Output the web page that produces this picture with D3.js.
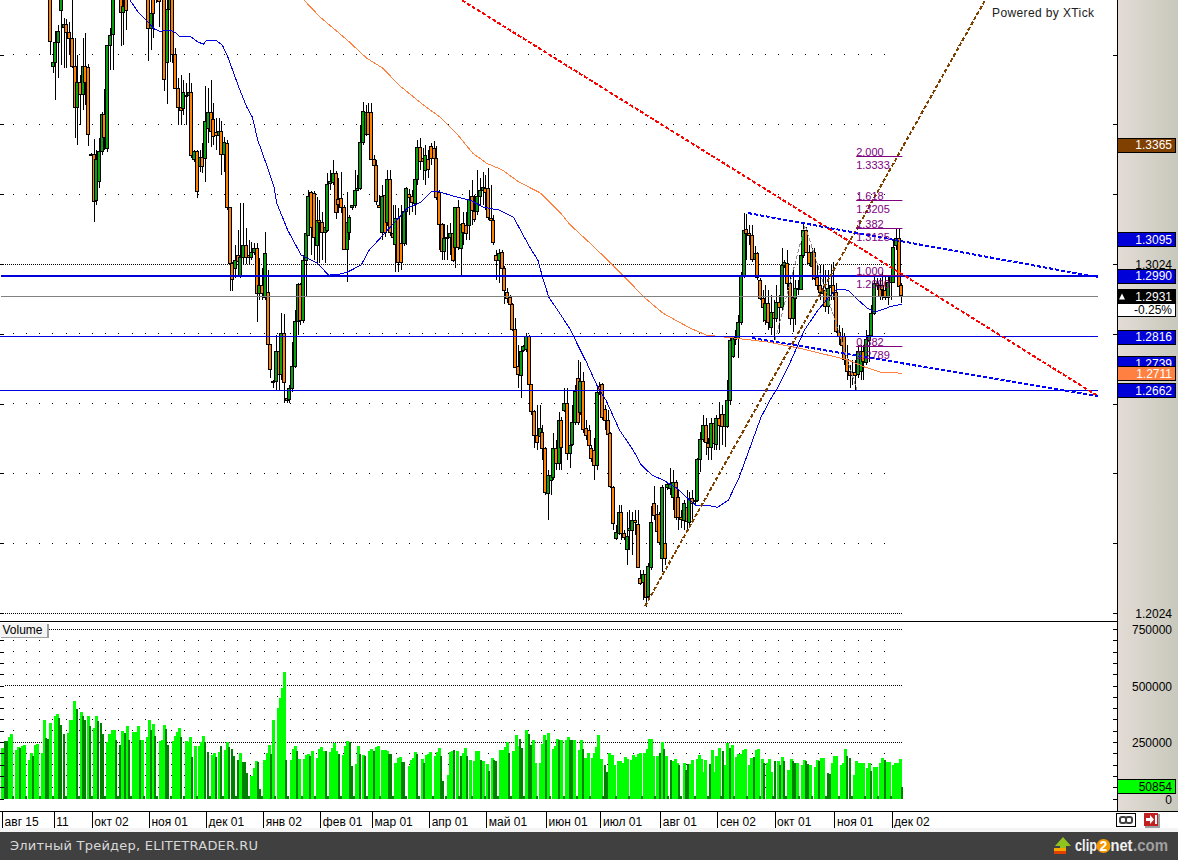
<!DOCTYPE html>
<html><head><meta charset="utf-8">
<script src="https://cdn.jsdelivr.net/npm/d3@7/dist/d3.min.js"></script>
<style>html,body{margin:0;padding:0;background:#fff;overflow:hidden}svg{display:block}text{font-family:"Liberation Sans",Arial,sans-serif}</style>
</head><body><svg id="c" width="1178" height="860"></svg>
<script>
// Daily candles in pips (price x 10000); bar numbers start at firstCandle, earlier bars are above the view.
const firstCandle = 18, lastBar = 331;
const opens = [13895,13588,13602,13660,13751,13703,13711,13688,13671,13591,
13473,13545,13511,13591,13588,13339,13339,13204,13259,13345,
13451,13356,13651,13683,13794,13837,13809,13746,13794,13823,
13832,13866,13837,13852,13837,13845,13809,13700,13803,13789,
13783,13794,13794,13602,13754,13794,13625,13528,13473,13468,
13508,13505,13514,13322,13345,13304,13330,13327,13413,13459,
13439,13402,13393,13405,13339,13370,13187,13026,13012,13047,
12992,13044,13078,13047,13044,13058,13069,12941,12963,12929,
12943,12794,12688,12688,12774,12708,12826,12640,12634,12666,
12731,12860,12966,12863,13035,13104,13230,13227,13078,13150,
13144,13115,13121,13253,13259,13284,13210,13213,13187,13067,
13115,13187,13193,13236,13241,13373,13396,13459,13459,13324,
13307,13193,13115,13221,13144,13267,13112,13081,13155,13084,
13081,13173,13224,13216,13198,13267,13359,13327,13293,13322,
13362,13356,13327,13230,13138,13061,13101,13098,13110,13072,
13187,13069,13141,13135,13135,13216,13175,13175,13218,13236,
13241,13239,13155,13150,13049,13035,13058,13012,12941,12929,
12909,12837,12729,12706,12777,12777,12817,12680,12602,12534,
12531,12542,12496,12368,12405,12413,12496,12453,12577,12605,
12625,12482,12508,12571,12697,12597,12686,12554,12548,12496,
12491,12448,12674,12680,12608,12577,12537,12385,12239,12253,
12313,12253,12204,12262,12262,12290,12279,12124,12110,12135,
12070,12156,12339,12305,12305,12181,12224,12382,12382,12356,
12399,12356,12299,12290,12325,12284,12353,12347,12347,12465,
12522,12562,12511,12499,12568,12505,12580,12594,12560,12560,
12634,12757,12806,12812,12857,12989,13124,13112,13107,13038,
13055,12978,12926,12863,12912,12843,12886,12869,12915,12900,
13021,13026,12969,12869,12926,12955,12952,13049,13121,13058,
13018,13058,12984,12961,12941,12949,12903,12955,12961,12941,
12829,12817,12817,12751,12717,12714,12714,12706,12714,12772,
12743,12806,12820,12883,12969,12961,12961,12949,12929,12972,
12972,13078,13098,12961];
const highs = [13909,13637,13691,13708,13803,13728,13726,13717,13809,13671,
13622,13565,13671,13685,13597,13342,13382,13350,13385,13459,
13525,13651,13700,13809,13866,13880,13823,13794,13809,13852,
13880,13890,13870,13875,13860,13865,13823,13780,13814,13803,
13803,13803,13809,13780,13809,13809,13642,13557,13565,13551,
13542,13571,13542,13350,13350,13350,13370,13534,13528,13551,
13485,13442,13442,13433,13387,13379,13187,13029,13078,13121,
13198,13198,13127,13092,13087,13084,13084,13041,13012,13115,
13006,12794,12691,12820,12826,12883,12880,12648,12677,12800,
12892,12969,12969,13049,13121,13236,13233,13233,13216,13207,
13173,13173,13284,13293,13322,13290,13270,13287,13193,13230,
13164,13193,13293,13279,13422,13488,13479,13485,13485,13336,
13322,13221,13250,13250,13293,13293,13193,13193,13184,13193,
13236,13244,13239,13236,13276,13379,13385,13356,13365,13350,
13370,13376,13362,13236,13141,13138,13135,13141,13158,13187,
13207,13138,13173,13173,13236,13264,13221,13293,13270,13287,
13279,13299,13250,13164,13064,13067,13064,13018,12955,12935,
12912,12869,12792,12783,12792,12826,12820,12680,12605,12620,
12620,12562,12499,12433,12433,12539,12519,12600,12585,12668,
12668,12562,12620,12677,12749,12743,12714,12577,12562,12505,
12525,12668,12686,12683,12620,12605,12542,12388,12276,12333,
12333,12262,12313,12319,12313,12319,12319,12147,12147,12135,
12167,12330,12388,12333,12313,12391,12385,12399,12439,12433,
12405,12376,12319,12347,12376,12370,12376,12362,12468,12542,
12591,12582,12525,12582,12582,12591,12628,12620,12628,12691,
12812,12812,12835,12878,13001,13170,13167,13135,13135,13075,
13058,12984,12949,12963,12949,12935,12920,12963,12935,13069,
13035,13064,12992,13006,12978,12978,13064,13138,13130,13078,
13069,13069,13021,13021,13021,13006,13006,13021,13029,12969,
12849,12840,12826,12792,12734,12749,12749,12792,12792,12792,
12835,12826,12906,12986,12984,12984,13001,12992,12992,13021,
13092,13127,13127,12969];
const lows = [13622,13571,13494,13557,13594,13585,13585,13622,13585,13385,
13365,13422,13465,13479,13362,13333,13144,13193,13241,13336,
13350,13345,13579,13579,13794,13803,13648,13651,13694,13794,
13810,13820,13815,13820,13815,13815,13605,13637,13671,13771,
13703,13774,13519,13482,13602,13600,13528,13422,13422,13451,
13422,13473,13327,13316,13213,13287,13284,13259,13370,13359,
13365,13350,13336,13279,13287,13178,12946,12946,12984,12992,
12984,13024,13024,13021,13035,13049,12857,12920,12920,12920,
12792,12697,12668,12663,12663,12691,12625,12625,12625,12657,
12726,12820,12849,12855,12929,13104,13049,13035,13024,13026,
13035,13026,13115,13236,13250,13153,13170,13170,13064,12972,
13092,13178,13184,13236,13236,13365,13390,13393,13322,13293,
13193,13184,13092,13101,13133,13104,13078,13001,13001,13006,
13075,13078,13164,13173,13164,13250,13293,13264,13250,13270,
13307,13322,13207,13064,13035,13035,13035,13049,13029,13012,
13064,12992,13078,13092,13092,13135,13144,13164,13193,13193,
13178,13150,13135,13078,12978,12969,13006,12909,12912,12903,
12832,12726,12668,12640,12772,12772,12677,12591,12496,12491,
12496,12462,12362,12290,12362,12405,12433,12433,12433,12600,
12462,12439,12502,12562,12562,12591,12539,12519,12468,12456,
12405,12433,12648,12577,12548,12505,12382,12262,12233,12247,
12233,12233,12161,12204,12190,12247,12153,12104,12061,12041,
12067,12147,12290,12233,12219,12141,12161,12376,12362,12319,
12290,12262,12267,12262,12262,12276,12290,12333,12342,12428,
12514,12476,12462,12462,12491,12491,12491,12505,12499,12554,
12620,12754,12792,12754,12849,12984,13035,13078,13029,13029,
12978,12920,12857,12849,12835,12820,12806,12857,12826,12892,
13012,12949,12849,12829,12849,12935,12949,13041,13055,13018,
12978,12978,12949,12920,12920,12886,12880,12920,12920,12826,
12792,12763,12734,12691,12668,12677,12663,12697,12691,12691,
12734,12743,12815,12878,12949,12920,12920,12920,12906,12920,
12969,13064,12955,12912];
const closes = [13663,13600,13660,13691,13789,13711,13688,13671,13591,13473,
13545,13511,13591,13545,13396,13339,13204,13322,13345,13451,
13385,13651,13680,13794,13837,13852,13746,13763,13751,13832,
13866,13837,13852,13837,13845,13830,13700,13743,13743,13783,
13777,13783,13554,13754,13794,13625,13528,13473,13465,13514,
13505,13514,13333,13345,13230,13330,13304,13433,13459,13405,
13390,13393,13405,13339,13373,13187,13026,12981,13035,13029,
13044,13078,13044,13041,13058,13069,12941,12963,12941,13055,
12794,12723,12686,12774,12708,12826,12686,12634,12666,12729,
12860,12966,12863,13035,13112,13216,13130,13101,13150,13144,
13115,13130,13253,13259,13284,13173,13196,13187,13067,13144,
13158,13193,13236,13241,13373,13462,13459,13396,13324,13307,
13204,13187,13218,13115,13267,13115,13101,13155,13029,13029,
13173,13239,13216,13198,13267,13359,13319,13319,13336,13293,
13327,13327,13216,13138,13061,13098,13101,13110,13032,13187,
13072,13138,13115,13112,13210,13175,13153,13218,13236,13244,
13230,13155,13150,13087,13035,13055,13012,12949,12923,12909,
12837,12729,12706,12774,12789,12815,12680,12602,12534,12514,
12554,12496,12370,12419,12419,12496,12453,12577,12499,12625,
12482,12505,12571,12660,12571,12686,12548,12534,12505,12468,
12448,12657,12663,12585,12577,12537,12385,12282,12256,12313,
12253,12242,12242,12267,12290,12284,12156,12110,12133,12070,
12156,12284,12305,12256,12224,12385,12181,12391,12393,12399,
12299,12299,12293,12339,12284,12353,12339,12347,12465,12522,
12562,12514,12499,12568,12511,12580,12560,12560,12594,12634,
12806,12812,12812,12857,12989,13121,13112,13107,13038,13055,
12986,12926,12900,12912,12857,12886,12869,12915,12900,13021,
13029,12969,12869,12929,12955,12952,13049,13121,13058,13026,
13058,12984,12961,12941,12949,12903,12955,12961,12941,12829,
12817,12792,12751,12717,12706,12706,12706,12772,12772,12743,
12809,12820,12883,12969,12963,12929,12949,12929,12972,12992,
13072,13098,12961,12931];

// Moving averages: bar number and value in pips.
const fastMaBars = [47,50,53,56,58,62,64,65,69,72,74,75,79,81,83,85,87,90,92,94,97,100,101,105,110,113,116,120,124,127,132,135,141,146,149,154,158,160,166,172,177,183,188,191,194,197,199,201,205,209,212,215,219,222,227,232,235,239,243,248,252,255,259,263,267,271,275,279,283,285,289,295,300,304,307,311,314,318,321,327,331];
const fastMaVals = [13780,13746,13723,13697,13691,13694,13685,13677,13677,13660,13654,13663,13663,13651,13617,13574,13531,13473,13445,13379,13313,13244,13198,13121,13049,13038,13026,12992,12995,13001,13021,13064,13115,13158,13184,13201,13233,13233,13218,13207,13187,13178,13158,13115,13072,13035,12978,12929,12883,12835,12786,12740,12671,12634,12548,12491,12448,12419,12405,12382,12353,12333,12333,12327,12347,12413,12499,12585,12643,12668,12729,12835,12892,12929,12952,12949,12926,12898,12886,12903,12909];
const slowMaBars = [111,117,127,134,140,146,155,161,167,173,178,184,190,198,205,209,215,220,230,236,243,253,259,269,282,293,302,311,317,323,331];
const slowMaVals = [13780,13731,13665,13614,13585,13536,13479,13445,13399,13342,13313,13293,13259,13227,13173,13135,13092,13055,12978,12929,12883,12840,12820,12812,12800,12783,12766,12749,12729,12714,12711];
const zigzagBars = [284.2,295.2,314.3];
const zigzagVals = [12806,13135,12663];

// Hand-drawn trend lines: [startBar, startPips, endBar, endPips]
const redTrend = [169,13780,403,12645];
const brownTrend = [236.4,12044,361.4,13780];
const upperBlueTrend = [274.2,13170,403,12986];
const lowerBlueTrend = [275.7,12812,403,12645];

const thickLevel = 1.2990, thinLevels = [1.2816,1.2662], lastPrice = 1.2931;
const fibRatios = ["2.000","1.618","1.382","1.000","0.382"];
const fibPrices = [1.3333,1.3205,1.3125,1.2990,1.2789];
const priceLabels = [1.3024,1.2024];
const priceGrid = [1.3624,1.3424,1.3224,1.2824,1.2624,1.2424,1.2224];
const priceTicks = [1.3624,1.3424,1.3224,1.3024,1.2824,1.2624,1.2424,1.2224,1.2024];
const tagValues = [1.3365,1.3095,1.2990,1.2816,1.2739,1.2711,1.2662];
const tagColors = ["#804000","#0000d8","#0000d8","#0000d8","#0000d8","#ff8040","#0000d8"];

const monthBars = [0,19,33,54,75,96,117,136,157,178,200,220,242,263,284,306,327];
const monthLabels = ["авг 15","11","окт 02","ноя 01","дек 01","янв 02","фев 01","мар 01","апр 01","май 01","июн 01","июл 01","авг 01","сен 02","окт 01","ноя 01","дек 02"];

// Volume in thousands, one line per week (five sessions and a small weekend print).
const volumeK = [222,256,256,271,284,9, 214,228,225,231,237,9, 170,201,189,238,241,9, 201,348,268,263,335,9,
363,375,357,327,286,9, 290,348,348,433,397,9, 382,363,348,363,323,9, 314,363,345,333,286,9,
248,286,304,304,259,9, 237,299,290,320,259,9, 293,293,320,259,259,9, 271,348,304,330,278,9,
256,259,326,308,237,9, 256,278,296,312,271,9, 254,248,271,182,231,9, 231,248,277,248,207,9,
192,201,182,204,231,9, 214,248,226,219,189,9, 170,201,162,162,112,9, 100,134,165,162,40,9,
170,201,237,196,348,9, 400,446,491,561,170,9, 170,219,231,208,174,9, 174,192,195,189,208,9,
179,219,226,210,208,9, 205,223,246,211,199,9, 192,231,254,248,143,9, 152,231,196,192,186,9,
208,219,208,229,232,9, 213,214,208,196,199,9, 156,179,185,162,162,9, 146,171,180,205,198,9,
176,158,193,196,204,9, 186,207,223,189,77,9, 104,207,211,214,211,9, 186,201,223,186,171,9,
168,211,211,171,168,9, 153,122,180,171,168,9, 216,216,226,250,201,9, 211,283,234,265,223,9,
301,284,238,257,159,9, 159,243,283,260,290,9, 219,234,265,260,257,9, 260,272,260,257,260,9,
213,260,219,179,201,9, 179,201,226,283,176,9, 149,119,201,193,149,9, 167,164,156,183,174,9,
171,193,182,198,201,9, 201,219,265,265,186,9, 186,201,251,220,186,9, 171,168,174,159,149,9,
156,124,152,152,171,9, 174,193,174,119,171,9, 153,216,119,186,223,9, 211,149,246,223,238,9,
183,198,198,213,220,9, 149,179,182,213,219,9, 176,156,159,174,119,9, 164,164,149,182,165,9,
126,174,165,159,159,9, 149,170,164,152,149,9, 140,170,167,179,179,9, 112,107,156,189,189,9,
147,156,219,187,179,9, 103,165,159,159,159,9, 134,159,122,140,140,9, 159,179,170,162,162,9,
147,156,159,174,50.854];
const volumeDown = [0,1,1,0,0,1, 0,0,1,0,0,1, 0,0,1,0,0,1, 0,0,1,1,0,1,
0,0,1,1,1,1, 0,0,0,0,1,1, 0,1,1,0,1,1, 0,0,1,1,1,1,
0,0,0,0,1,1, 1,0,1,0,1,1, 0,0,0,1,0,1, 0,0,1,0,1,1,
0,0,0,1,1,1, 0,0,0,0,1,1, 0,0,0,1,0,1, 0,0,0,1,1,1,
0,0,1,0,1,1, 0,0,1,1,1,1, 1,0,1,1,1,1, 0,0,0,1,1,1,
0,0,0,1,0,1, 0,0,0,0,1,1, 0,0,0,1,0,1, 0,0,0,1,0,1,
0,0,0,0,1,1, 0,0,0,0,1,1, 0,0,0,1,1,1, 0,0,1,0,1,1,
0,0,1,0,0,1, 0,0,0,1,1,1, 0,0,0,1,1,1, 0,0,0,0,1,1,
0,1,0,0,0,1, 0,0,0,1,1,1, 0,0,0,1,0,1, 1,0,0,1,0,1,
0,0,0,1,0,1, 0,1,0,1,1,1, 0,0,0,0,1,1, 0,0,0,1,1,1,
0,1,1,0,0,1, 0,0,0,1,0,1, 0,0,0,1,0,1, 0,0,1,1,0,1,
0,0,1,0,0,1, 0,0,0,0,0,1, 1,1,0,0,0,1, 0,0,0,0,0,1,
0,0,0,0,0,1, 0,0,0,0,0,1, 0,1,0,1,0,1, 1,0,0,0,1,1,
0,1,1,0,0,1, 0,0,0,0,0,1, 1,0,0,0,0,1, 1,0,0,1,0,1,
0,0,0,0,0,1, 0,0,1,0,0,1, 0,1,0,0,0,1, 1,0,1,0,1,1,
0,0,1,1,0,1, 0,0,1,1,0,1, 0,0,1,0,0,1, 1,1,0,0,0,1,
0,0,0,1,1,1, 0,0,0,0,0,1, 0,0,1,0,0,1, 0,0,1,0,0,1,
0,0,0,0,1];
const volumeLabels = [750000,500000,250000,0];
const volumeMinor = d3.range(0,750001,50000);
const lastVolume = 50854;

const svg = d3.select("#c");
const x = d3.scaleLinear().domain([0,lastBar]).range([2.1,902.4]);
const y = d3.scaleLinear().domain([1.2024,1.3024]).range([613,264]);
const xv = d3.scaleLinear().domain([0,volumeK.length-1]).range([2.4,902]);
const yv = d3.scaleLinear().domain([0,750000]).range([798.5,629]);
const py = p => y(p/10000);
const snap = v => Math.floor(v)+0.5;

// right panel gradient
const defs = svg.append("defs");
const g1 = defs.append("linearGradient").attr("id","pan");
g1.append("stop").attr("offset",0).attr("stop-color","#e3dcd6");
g1.append("stop").attr("offset",1).attr("stop-color","#c8c8bc");
svg.append("rect").attr("x",1117).attr("y",0).attr("width",61).attr("height",811).attr("fill","url(#pan)");

// grid
const sparse = (s,v) => s.append("line").attr("x1",12.7).attr("x2",891).attr("y1",snap(v)).attr("y2",snap(v))
  .attr("stroke","#000").attr("stroke-dasharray","1,12.2").attr("shape-rendering","crispEdges");
const dense = (s,v) => s.append("line").attr("x1",5).attr("x2",902).attr("y1",snap(v)).attr("y2",snap(v))
  .attr("stroke","#000").attr("stroke-dasharray","1,1").attr("shape-rendering","crispEdges");
const grid = svg.append("g");
priceGrid.forEach(p=>sparse(grid,y(p)));
priceLabels.forEach(p=>dense(grid,y(p)));
volumeMinor.filter(v=>v>0&&v%250000!==0).forEach(v=>sparse(grid,yv(v)));
volumeLabels.filter(v=>v>0).forEach(v=>dense(grid,yv(v)));

// volume bars
svg.append("g").selectAll("rect").data(volumeK).join("rect")
  .attr("x",(d,i)=>Math.round(xv(i))-1)
  .attr("width",(d,i)=>volumeDown[i]?2:3)
  .attr("y",d=>Math.round(yv(d*1000)))
  .attr("height",d=>799-Math.round(yv(d*1000)))
  .attr("fill",(d,i)=>volumeDown[i]?"#008000":"#00ff00")
  .attr("shape-rendering","crispEdges");

// candles
const candles = closes.map((c,k)=>({i:k+firstCandle,o:opens[k],h:highs[k],l:lows[k],c}));
const cg = svg.append("g").attr("shape-rendering","crispEdges");
cg.selectAll("line").data(candles).join("line")
  .attr("x1",d=>Math.round(x(d.i))-0.5).attr("x2",d=>Math.round(x(d.i))-0.5)
  .attr("y1",d=>py(d.h)).attr("y2",d=>py(d.l)).attr("stroke","#000");
cg.selectAll("rect").data(candles).join("rect")
  .attr("x",d=>Math.round(x(d.i))-2.5).attr("width",3)
  .attr("y",d=>snap(py(Math.max(d.o,d.c))))
  .attr("height",d=>Math.max(1,Math.round(Math.abs(py(d.o)-py(d.c)))))
  .attr("fill",d=>d.c>=d.o?"#08a010":"#ff8000").attr("stroke","#000");

// moving averages & zigzag
const line = d3.line().x(d=>x(d[0])).y(d=>py(d[1]));
const zip = (a,b)=>a.map((v,i)=>[v,b[i]]);
svg.append("path").attr("d",line(zip(zigzagBars,zigzagVals))).attr("fill","none").attr("stroke","#909090").attr("stroke-dasharray","4,2").attr("shape-rendering","crispEdges");
svg.append("path").attr("d",line(zip(slowMaBars,slowMaVals))).attr("fill","none").attr("stroke","#ff8040").attr("shape-rendering","crispEdges");
svg.append("path").attr("d",line(zip(fastMaBars,fastMaVals))).attr("fill","none").attr("stroke","#0000e0").attr("shape-rendering","crispEdges");

// levels
svg.append("line").attr("x1",1).attr("x2",1098).attr("y1",snap(y(lastPrice))).attr("y2",snap(y(lastPrice))).attr("stroke","#808080");
thinLevels.forEach(v=>svg.append("line").attr("x1",0).attr("x2",1098).attr("y1",snap(y(v))).attr("y2",snap(y(v))).attr("stroke","#0000e0"));
svg.append("line").attr("x1",1).attr("x2",1098).attr("y1",Math.round(y(thickLevel))).attr("y2",Math.round(y(thickLevel))).attr("stroke","#0000d8").attr("stroke-width",2);

// trend lines
[[redTrend,"#ff0000"],[brownTrend,"#804000"],[upperBlueTrend,"#0000ff"],[lowerBlueTrend,"#0000ff"]].forEach(([t,col])=>{
  svg.append("line").attr("x1",x(t[0])).attr("y1",py(t[1])).attr("x2",x(t[2])).attr("y2",py(t[3]))
   .attr("stroke",col).attr("stroke-width",2).attr("stroke-dasharray","4,2").attr("shape-rendering","crispEdges");
});

// fibonacci
const fibX1 = x(314), fibX2 = x(331);
fibPrices.forEach((p,i)=>{
  const yy = snap(y(p));
  svg.append("line").attr("x1",fibX1).attr("x2",fibX2).attr("y1",yy).attr("y2",yy).attr("stroke","#800080");
  svg.append("text").attr("x",fibX1).attr("y",yy-1).attr("font-size",11).attr("fill","#800080").text(fibRatios[i]);
  svg.append("text").attr("x",fibX1).attr("y",yy+12).attr("font-size",11).attr("fill","#800080").text(p.toFixed(4));
});

// frame lines
svg.append("line").attr("x1",0).attr("x2",1117).attr("y1",621.5).attr("y2",621.5).attr("stroke","#000");
svg.append("line").attr("x1",0).attr("x2",1178).attr("y1",811.5).attr("y2",811.5).attr("stroke","#000");
svg.append("line").attr("x1",1117.5).attr("x2",1117.5).attr("y1",0).attr("y2",811).attr("stroke","#000");

// side ticks by d3 axes
const cleanAxis = g => { g.select(".domain").remove(); g.attr("shape-rendering","crispEdges"); };
svg.append("g").attr("transform","translate(1117,0)").call(d3.axisLeft(y).tickValues(priceTicks).tickSize(4).tickFormat("")).call(cleanAxis);
svg.append("g").attr("transform","translate(0,0)").call(d3.axisRight(y).tickValues(priceTicks).tickSize(4).tickFormat("")).call(cleanAxis);
svg.append("g").attr("transform","translate(1117,0)").call(d3.axisLeft(yv).tickValues(volumeMinor).tickSize(4).tickFormat("")).call(cleanAxis);
svg.append("g").attr("transform","translate(0,0)").call(d3.axisRight(yv).tickValues(volumeMinor).tickSize(4).tickFormat("")).call(cleanAxis);

// axis labels
const rlabel = (yy,t,col,size)=>svg.append("text").attr("x",1172).attr("y",yy).attr("text-anchor","end").attr("font-size",size||12).attr("fill",col).text(t);
priceLabels.forEach(p=>rlabel(y(p)+4.5,p.toFixed(4),"#000"));
volumeLabels.forEach(v=>rlabel(yv(v)+5,String(v),"#000"));

// value tags
const tag = (yy,h,fill)=>svg.append("rect").attr("x",1117.5).attr("y",Math.round(yy)+0.5).attr("width",58).attr("height",h).attr("fill",fill).attr("stroke","#000").attr("shape-rendering","crispEdges");
tagValues.forEach((v,i)=>{
  tag(y(v)-7,14,tagColors[i]);
  rlabel(y(v)+4.5,v.toFixed(4),"#fff");
});
tag(y(lastPrice)-7,14,"#000");
rlabel(y(lastPrice)+4.5,lastPrice.toFixed(4),"#fff");
svg.append("path").attr("d",`M1118,${y(lastPrice)+3}l3,-6l3,6z`).attr("fill","#fff").attr("transform","translate(1,0)");
tag(y(lastPrice)+7,13,"#fff");
rlabel(y(lastPrice)+18,"-0.25%","#000");
tag(yv(lastVolume)-8,14,"#00ff00");
rlabel(yv(lastVolume)+3.5,String(lastVolume),"#000");

// volume button
svg.append("rect").attr("x",1).attr("y",624).attr("width",48).attr("height",14).attr("fill","#a0a0a0");
svg.append("rect").attr("x",0).attr("y",623).attr("width",47).attr("height",14).attr("fill","#f4f4f4");
svg.append("text").attr("x",2.5).attr("y",634).attr("font-size",12).attr("fill","#000").text("Volume");

svg.append("text").attr("x",992).attr("y",17).attr("font-size",12).attr("fill","#202020").attr("textLength",102).attr("lengthAdjust","spacing").text("Powered by XTick");

// month axis
const mapLabel = d3.scaleOrdinal().domain(monthBars).range(monthLabels);
const xa = svg.append("g").attr("transform","translate(0,811)")
  .call(d3.axisBottom(x).tickValues(monthBars).tickSize(17).tickFormat(d=>mapLabel(d)));
xa.select(".domain").remove();
xa.attr("shape-rendering","crispEdges");
xa.selectAll(".tick line").attr("stroke","#000");
xa.selectAll("text").attr("text-anchor","start").attr("x",2).attr("y",6).attr("dy","0.71em").attr("font-size",12).attr("fill","#000").style("font-family",'"Liberation Sans",Arial,sans-serif');

// footer
svg.append("rect").attr("x",0).attr("y",828).attr("width",1178).attr("height",4).attr("fill","#f4f4f4");
svg.append("rect").attr("x",0).attr("y",832).attr("width",1178).attr("height",28).attr("fill","#404040");
svg.append("text").attr("x",10).attr("y",850).attr("font-size",13).attr("fill","#d8d8d8").attr("textLength",248).attr("lengthAdjust","spacing").style("font-family",'"DejaVu Sans",sans-serif').text("Элитный Трейдер, ELITETRADER.RU");

// clip2net mark
const logo = svg.append("g");
logo.append("path").attr("d","M1063,837l8,9h-5v5h-6v-5h-5z").attr("fill","#8fc31f");
logo.append("rect").attr("x",1054).attr("y",848).attr("width",12).attr("height",3).attr("fill","#f6a800");
logo.append("rect").attr("x",1054).attr("y",851).attr("width",12).attr("height",3).attr("fill","#e04000");
logo.append("text").attr("x",1075).attr("y",851).attr("font-size",17).attr("font-weight","bold").attr("fill","#f0f0f0").attr("textLength",22).attr("lengthAdjust","spacingAndGlyphs").text("clip");
logo.append("circle").attr("cx",1103.5).attr("cy",846).attr("r",7).attr("fill","#f39800");
logo.append("text").attr("x",1103.5).attr("y",851).attr("text-anchor","middle").attr("font-size",14).attr("font-weight","bold").attr("fill","#fff").text("2");
logo.append("text").attr("x",1110.5).attr("y",851).attr("font-size",17).attr("font-weight","bold").attr("fill","#f0f0f0").attr("textLength",22).attr("lengthAdjust","spacingAndGlyphs").text("net");
logo.append("text").attr("x",1133).attr("y",851).attr("font-size",17).attr("font-weight","bold").attr("fill","#a0a0a0").attr("textLength",35).attr("lengthAdjust","spacingAndGlyphs").text(".com");

// toolbar icons
svg.append("rect").attr("x",1116.5).attr("y",813.5).attr("width",19).attr("height",13).attr("fill","#fff").attr("stroke","#000");
svg.append("rect").attr("x",1120).attr("y",817).attr("width",6).attr("height",6).attr("rx",2).attr("fill","none").attr("stroke","#404040").attr("stroke-width",2);
svg.append("rect").attr("x",1126).attr("y",817).attr("width",6).attr("height",6).attr("rx",2).attr("fill","none").attr("stroke","#404040").attr("stroke-width",2);
svg.append("rect").attr("x",1145).attr("y",814).attr("width",15).attr("height",14).attr("fill","#a0a0a0");
svg.append("rect").attr("x",1144).attr("y",813).attr("width",14).attr("height",13).attr("fill","#c02020");
svg.append("path").attr("d","M1146,818h4v-3l4,4.5l-4,4.5v-3h-4z").attr("fill","#fff");
svg.append("rect").attr("x",1155).attr("y",815).attr("width",2).attr("height",9).attr("fill","#fff");
</script></body></html>
